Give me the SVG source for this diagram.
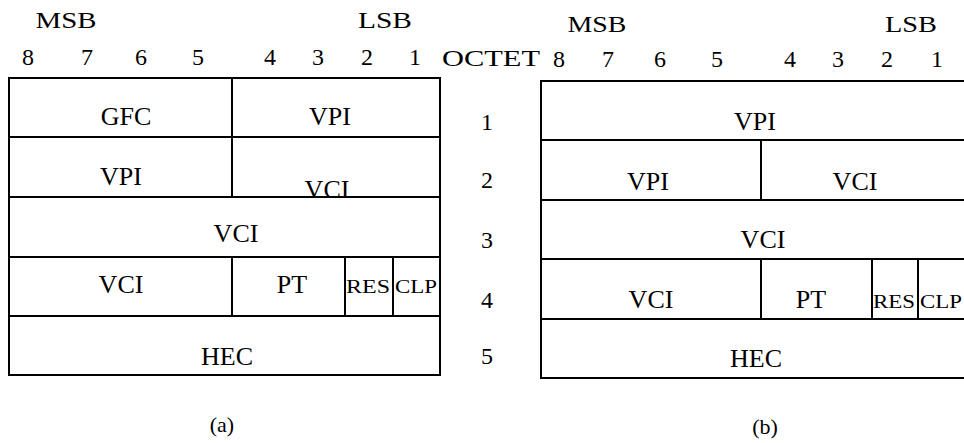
<svg xmlns="http://www.w3.org/2000/svg" width="964" height="443" viewBox="0 0 964 443">
<style>
text{font-family:"Liberation Serif","Times New Roman",serif;fill:#000;text-anchor:middle}
.cell{fill:#fff;stroke:#000;stroke-width:2}
.lbl{font-size:26px}
.small{font-size:18px}
.hdr{font-size:23px}
.bit{font-size:24px}
.oct{font-size:24px}
.cap{font-size:22px}
</style>
<rect width="964" height="443" fill="#fff"/>
<g id="header-a">
<text class="hdr" x="66" y="28" textLength="61" lengthAdjust="spacingAndGlyphs">MSB</text>
<text class="hdr" x="385" y="28" textLength="54" lengthAdjust="spacingAndGlyphs">LSB</text>
<text class="bit" x="28" y="65">8</text>
<text class="bit" x="87" y="65">7</text>
<text class="bit" x="141" y="65">6</text>
<text class="bit" x="198" y="65">5</text>
<text class="bit" x="270" y="65">4</text>
<text class="bit" x="318" y="65">3</text>
<text class="bit" x="367" y="65">2</text>
<text class="bit" x="415" y="65">1</text>
</g>
<g id="octet-column">
<text class="hdr" x="491" y="66" textLength="98" lengthAdjust="spacingAndGlyphs">OCTET</text>
<text class="oct" x="487" y="130">1</text>
<text class="oct" x="487" y="188">2</text>
<text class="oct" x="487" y="248">3</text>
<text class="oct" x="487" y="308">4</text>
<text class="oct" x="487" y="364">5</text>
</g>
<g id="header-b">
<text class="hdr" x="597" y="32" textLength="59" lengthAdjust="spacingAndGlyphs">MSB</text>
<text class="hdr" x="911" y="32" textLength="52" lengthAdjust="spacingAndGlyphs">LSB</text>
<text class="bit" x="559" y="67">8</text>
<text class="bit" x="608" y="67">7</text>
<text class="bit" x="660" y="67">6</text>
<text class="bit" x="717" y="67">5</text>
<text class="bit" x="790" y="67">4</text>
<text class="bit" x="838" y="67">3</text>
<text class="bit" x="887" y="67">2</text>
<text class="bit" x="937" y="67">1</text>
</g>
<g id="table-a">
<g id="a-gfc"><rect class="cell" x="9" y="78" width="223" height="59"/><text class="lbl" x="126" y="125">GFC</text></g>
<g id="a-vpi1"><rect class="cell" x="232" y="78" width="208" height="59"/><text class="lbl" x="330" y="125">VPI</text></g>
<g id="a-vpi2"><rect class="cell" x="9" y="137" width="223" height="60"/><text class="lbl" x="121" y="185">VPI</text></g>
<g id="a-vci2"><rect class="cell" x="232" y="137" width="208" height="60"/><text class="lbl" x="327" y="198">VCI</text></g>
<g id="a-vci3"><rect class="cell" x="9" y="197" width="431" height="60"/><text class="lbl" x="236" y="242">VCI</text></g>
<g id="a-vci4"><rect class="cell" x="9" y="257" width="223" height="59"/><text class="lbl" x="121" y="293">VCI</text></g>
<g id="a-pt"><rect class="cell" x="232" y="257" width="113" height="59"/><text class="lbl" x="292" y="293">PT</text></g>
<g id="a-res"><rect class="cell" x="345" y="257" width="48" height="59"/><text class="small" x="368" y="293" textLength="44" lengthAdjust="spacingAndGlyphs">RES</text></g>
<g id="a-clp"><rect class="cell" x="393" y="257" width="47" height="59"/><text class="small" x="416" y="293" textLength="42" lengthAdjust="spacingAndGlyphs">CLP</text></g>
<g id="a-hec"><rect class="cell" x="9" y="316" width="431" height="59"/><text class="lbl" x="227" y="365">HEC</text></g>
</g>
<g id="table-b">
<g id="b-vpi1"><rect class="cell" x="541" y="81" width="440" height="59"/><text class="lbl" x="755" y="130">VPI</text></g>
<g id="b-vpi2"><rect class="cell" x="541" y="140" width="220" height="60"/><text class="lbl" x="648" y="190">VPI</text></g>
<g id="b-vci2"><rect class="cell" x="761" y="140" width="220" height="60"/><text class="lbl" x="855" y="190">VCI</text></g>
<g id="b-vci3"><rect class="cell" x="541" y="200" width="440" height="59"/><text class="lbl" x="763" y="248">VCI</text></g>
<g id="b-vci4"><rect class="cell" x="541" y="259" width="220" height="60"/><text class="lbl" x="651" y="308">VCI</text></g>
<g id="b-pt"><rect class="cell" x="761" y="259" width="111" height="60"/><text class="lbl" x="811" y="308">PT</text></g>
<g id="b-res"><rect class="cell" x="872" y="259" width="46" height="60"/><text class="small" x="894" y="308" textLength="42" lengthAdjust="spacingAndGlyphs">RES</text></g>
<g id="b-clp"><rect class="cell" x="918" y="259" width="63" height="60"/><text class="small" x="941" y="308" textLength="42" lengthAdjust="spacingAndGlyphs">CLP</text></g>
<g id="b-hec"><rect class="cell" x="541" y="319" width="440" height="59"/><text class="lbl" x="756" y="367">HEC</text></g>
</g>
<g id="connectors"/>
<g id="captions">
<text class="cap" x="222" y="432">(a)</text>
<text class="cap" x="765" y="434">(b)</text>
</g>
</svg>
